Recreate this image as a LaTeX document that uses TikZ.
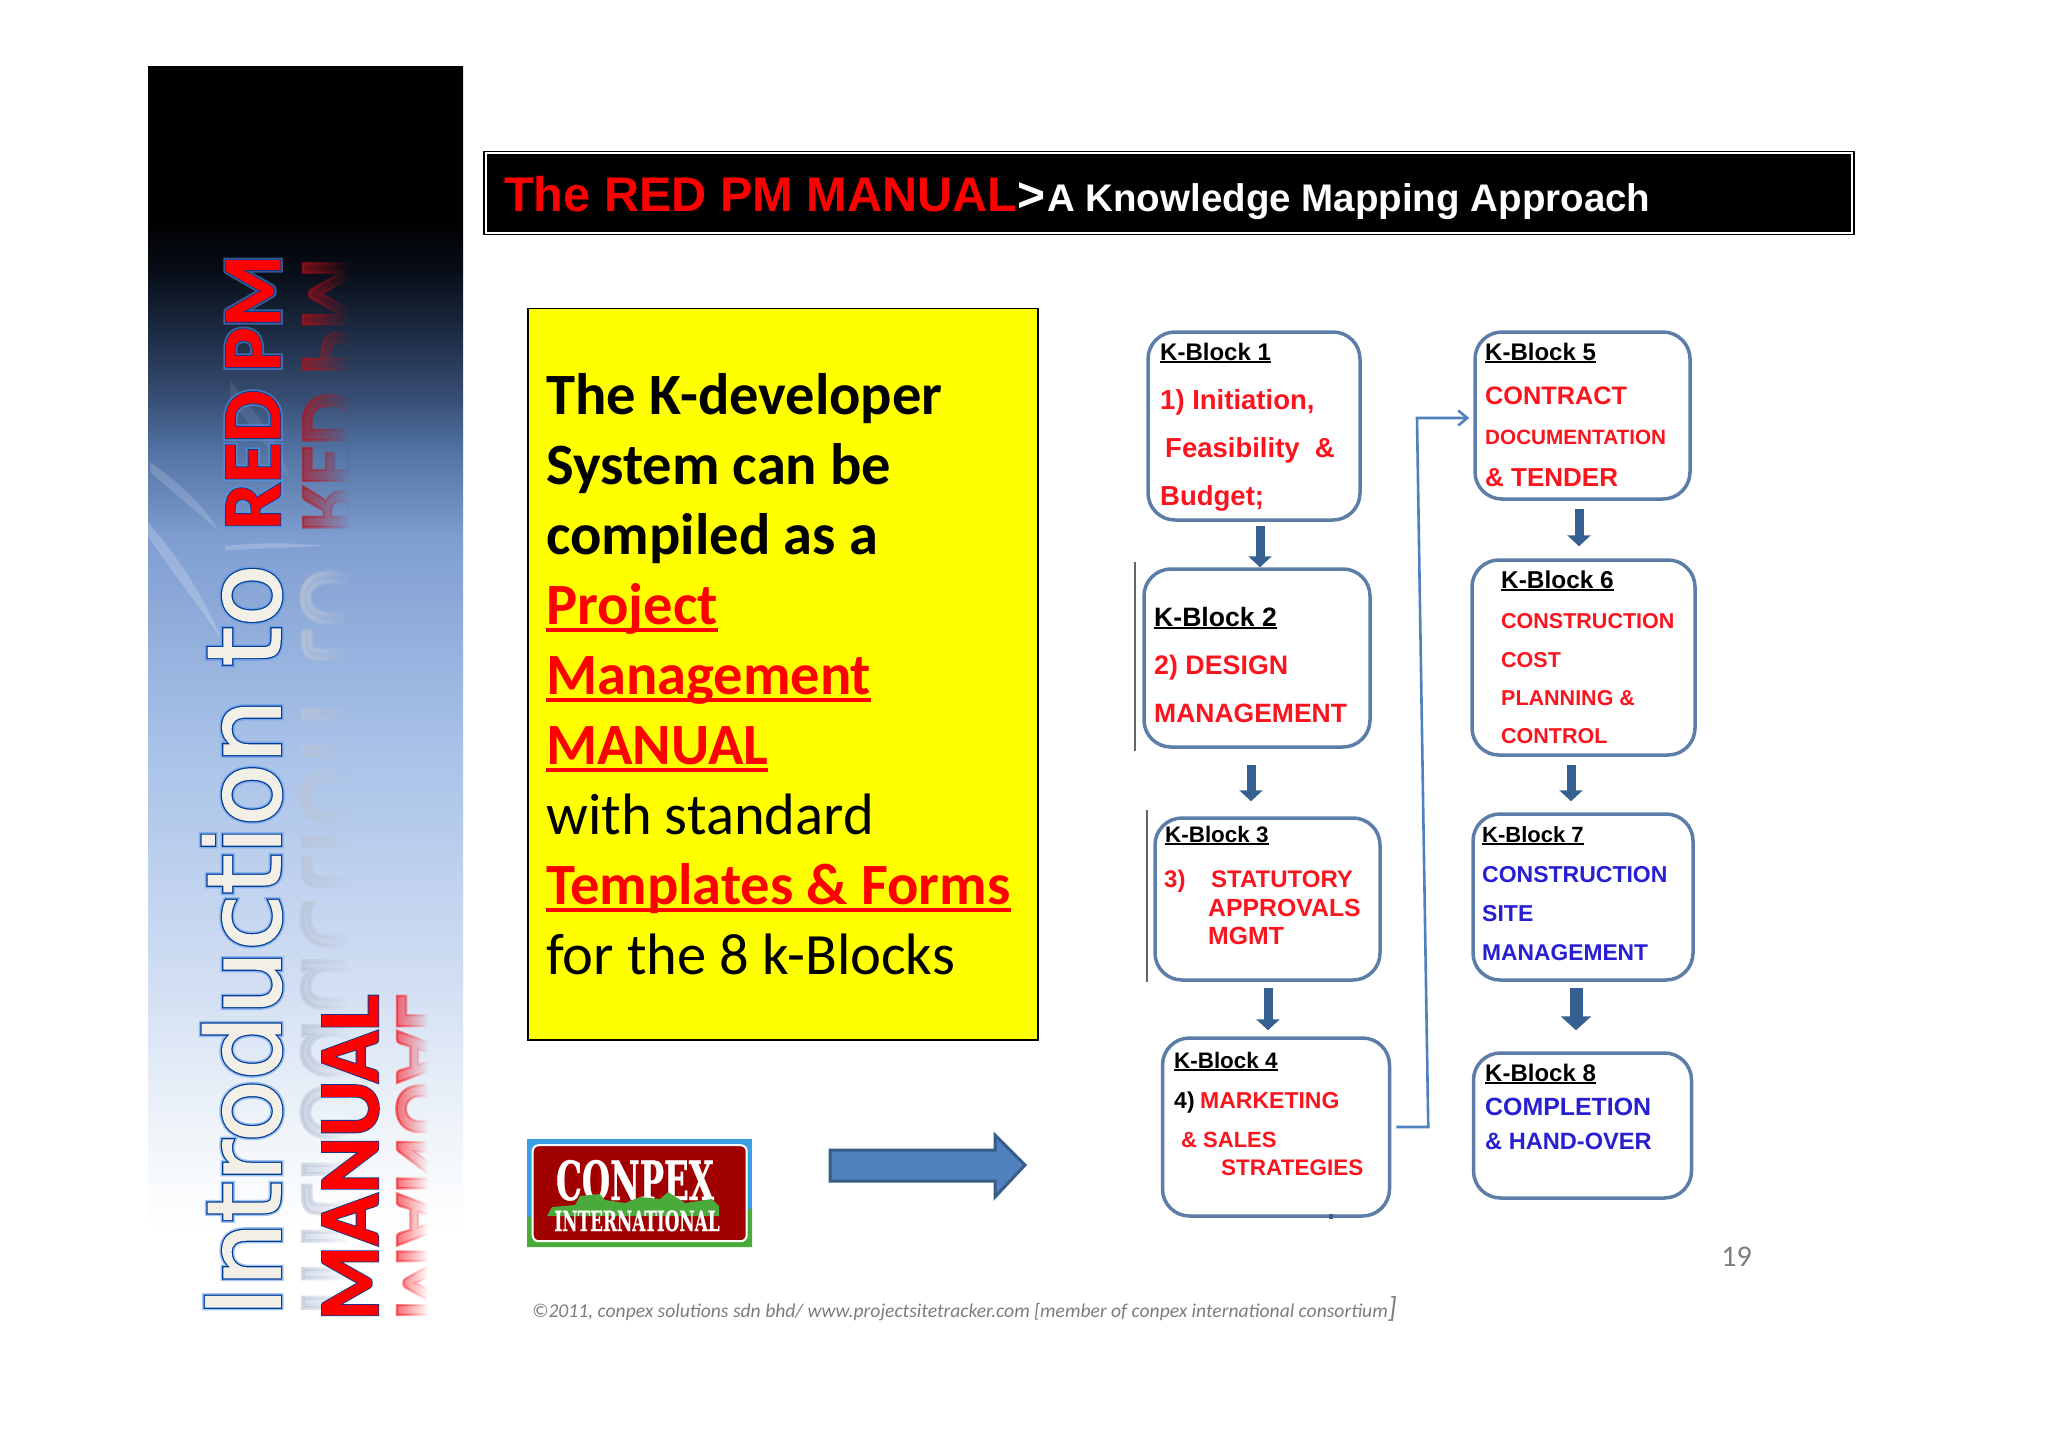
\documentclass[tikz,border=0pt]{standalone}
\usepackage{fontspec}
\usetikzlibrary{arrows.meta,fadings,calc}
\setmainfont{Liberation Sans}
\newfontfamily\carl{Carlito}
\newfontfamily\introP[FakeBold=1.6]{DejaVu Sans}
\newfontfamily\introF[FakeBold=4]{DejaVu Sans}
\newfontfamily\introG[FakeBold=7]{DejaVu Sans}
\newfontfamily\redF[FakeBold=2.8]{Carlito Bold}
\newfontfamily\redP[FakeBold=0.8]{Carlito Bold}
\newfontfamily\redG[FakeBold=7]{Carlito Bold}
\newfontfamily\logoF[FakeStretch=0.6,FakeBold=0.6]{DejaVu Serif Bold}
\definecolor{kred}{RGB}{250,20,30}
\definecolor{kblue}{RGB}{40,30,210}
\definecolor{kline}{RGB}{92,125,168}
\definecolor{karrow}{RGB}{54,96,146}
\definecolor{pale}{RGB}{242,240,230}
\definecolor{halo}{RGB}{90,150,235}
\definecolor{edgeblue}{RGB}{0,60,150}
\definecolor{reflgray}{RGB}{185,196,214}
\definecolor{arrowfill}{RGB}{79,129,189}
\definecolor{arrowedge}{RGB}{56,93,138}
\definecolor{footgray}{RGB}{125,125,125}
\definecolor{logored}{RGB}{160,0,0}
\definecolor{logogreen}{RGB}{75,170,60}
\definecolor{logosky}{RGB}{58,160,230}
\definecolor{pureyellow}{RGB}{255,255,0}
\definecolor{purered}{RGB}{255,0,0}
\pgfdeclareverticalshading{sidefade}{100bp}{
 rgb(0bp)=(1,1,1); rgb(29.5bp)=(1,1,1); rgb(33.3bp)=(.94,.96,.98);
 rgb(39.3bp)=(.82,.87,.95); rgb(48.3bp)=(.66,.76,.91); rgb(56.5bp)=(.50,.62,.82);
 rgb(60bp)=(.32,.45,.64); rgb(62bp)=(.22,.31,.46); rgb(65.2bp)=(.09,.14,.22); rgb(67.1bp)=(.03,.05,.09); rgb(69bp)=(0,0,0); rgb(100bp)=(0,0,0)}
\tikzfading[name=reflfade, left color=transparent!40, right color=transparent!100]
\newcommand\ulbox[3]{\setbox0\hbox{#1}\rlap{\rule[-#2]{\wd0}{#3}}\box0}
\newcommand\kh[1]{\ulbox{#1}{3pt}{2pt}}
\newcommand\bigul[1]{\ulbox{#1}{8pt}{4pt}}
\tikzset{
 kbox/.style={draw=kline,line width=3.5pt,fill=white,rounded corners=27pt,inner sep=0pt,rectangle},
 kt/.style={anchor=base west,inner sep=0pt,font=\fontsize{#1}{#1}\selectfont\bfseries},
 khead/.style={kt=#1,text=black},
 kr/.style={kt=#1,text=kred},
 kb/.style={kt=#1,text=kblue},
 flow/.style={karrow,line width=9pt,-{Triangle[width=23pt,length=11pt]}},
 turn/.style={arrowfill,line width=2.6pt,-{Straight Barb[width=15pt,length=9pt]}},
 sidetext/.style={rotate=90,anchor=base west,inner sep=0pt}
}
\begin{document}
\begin{tikzpicture}[x=1pt,y=-1pt]
\useasboundingbox (0,0) rectangle (2048,1447);
\fill[white] (0,0) rectangle (2048,1447);
% sidebar
\shade[shading=sidefade,shading angle=0] (148,67) rectangle (463,1345);
\begin{scope}
\clip (148,67) rectangle (463,1345);
\fill[white,opacity=.2] (148,522) .. controls (180,560) and (200,590) .. (222,640) .. controls (195,600) and (170,570) .. (148,536) -- cycle;
\fill[white,opacity=.16] (150,462) .. controls (175,480) and (200,500) .. (218,530) .. controls (195,510) and (170,490) .. (150,472) -- cycle;
\fill[white,opacity=.2] (225,546) .. controls (260,542) and (300,543) .. (325,546) .. controls (295,547) and (260,549) .. (225,550) -- cycle;
\fill[white,opacity=.08] (230,380) .. controls (250,410) and (275,430) .. (290,480) .. controls (265,440) and (245,420) .. (230,400) -- cycle;
\end{scope}
% reflections
\begin{scope}[transparency group]
\path[scope fading=reflfade] (303,250) rectangle (350,1330);
\node[sidetext,text=reflgray] (introRefl) at (303,1317) {\fontsize{102}{102}\introF\scalebox{1}[-1]{Introduction to}};
\node[sidetext,text=kred!75!black] (redRefl) at (303,530) {\fontsize{83}{83}\redF\scalebox{1}[-1]{RED PM}};
\end{scope}
\begin{scope}[transparency group]
\path[scope fading=reflfade] (397,980) rectangle (428,1330);
\node[sidetext,text=kred] (manRefl) at (397,1321) {\fontsize{86}{86}\redF\scalebox{1}[-1]{MANUAL}};
\end{scope}
% side titles: halo, outline, then face
\node[sidetext,text=halo,opacity=.55] (introGlow) at (280,1317) {\fontsize{102}{102}\introG Introduction to};
\node[sidetext,text=edgeblue] (introEdge) at (280,1317) {\fontsize{102}{102}\introF Introduction to};
\node[sidetext,text=pale] (intro) at (280,1317) {\fontsize{102}{102}\introP Introduction to};
\node[sidetext,text=halo,opacity=.55] (redGlow) at (280,530) {\fontsize{83}{83}\redG RED PM};
\node[sidetext,text=edgeblue] (redEdge) at (280,530) {\fontsize{83}{83}\redF RED PM};
\node[sidetext,text=purered] (redpm) at (280,530) {\fontsize{83}{83}\redP RED PM};
\node[sidetext,text=edgeblue] (manualEdge) at (378,1321) {\fontsize{86}{86}\redF MANUAL};
\node[sidetext,text=purered] (manual) at (378,1321) {\fontsize{86}{86}\redP MANUAL};
% header
\node[draw=black,line width=1.5pt,fill=white,minimum width=1370pt,minimum height=83pt,inner sep=0pt,anchor=north west] (hdrframe) at (483,151) {};
\fill[black] ([shift={(3.5pt,3.5pt)}]hdrframe.south west) rectangle ([shift={(-3.5pt,-3.5pt)}]hdrframe.north east);
\node[anchor=base west,inner sep=0pt,font=\fontsize{48.6}{48.6}\selectfont\bfseries,text=purered] (hdr1) at (504,212) {The RED PM MANUAL};
\node[anchor=base west,inner sep=0pt,font=\fontsize{48}{48}\selectfont\bfseries,text=white] (hdr2) at (1017,212) {>};
\node[anchor=base west,inner sep=0pt,font=\fontsize{38.5}{38.5}\selectfont\bfseries,text=white] (hdr3) at (1047,212) {A Knowledge Mapping Approach};
% yellow panel
\node[draw=black,line width=1.5pt,fill=pureyellow,minimum width=510pt,minimum height=731pt,inner sep=0pt,anchor=north west] (panel) at (527,308) {};
\node[anchor=north west,inner sep=0pt,align=left,font=\fontsize{58.5}{70}\selectfont\carl] (paneltext) at (546,373) {%
\textbf{The K-developer}\\
\textbf{System can be}\\
\textbf{compiled as a}\\
\textcolor{purered}{\bigul{\textbf{Project}}}\\
\textcolor{purered}{\bigul{\textbf{Management}}}\\
\textcolor{purered}{\bigul{\textbf{MANUAL}}}\\
with standard\\
\textcolor{purered}{\bigul{\textbf{Templates \& Forms}}}\\
for the 8 k-Blocks};
% logo
\node[minimum width=225pt,minimum height=108pt,inner sep=0pt,anchor=north west,fill=logosky] (logo) at (527,1139) {};
\fill[logogreen] (527,1217) -- (560,1213) -- (752,1209) -- (752,1247) -- (527,1247) -- cycle;
\node[draw=white,line width=2pt,fill=logored,rounded corners=6pt,minimum width=214pt,minimum height=96pt,inner sep=0pt] (logored) at (logo.center) {};
\node[inner sep=0pt,text=white,anchor=base,font=\fontsize{54}{54}\logoF] (conpex) at (635,1200) {CONPEX};
\fill[logogreen] (547,1216) -- (552,1207) -- (575,1205) -- (580,1196) -- (600,1194) -- (605,1200) -- (625,1203) -- (640,1197) -- (660,1199) -- (668,1192) -- (685,1203) -- (712,1199) -- (719,1206) -- (719,1216) -- cycle;
\node[inner sep=0pt,text=white,anchor=base,font=\fontsize{28}{28}\logoF] (intl) at (637,1231) {INTERNATIONAL};
% big arrow
\draw[fill=arrowfill,draw=arrowedge,line width=3pt,line join=miter] (830,1150) -- (995,1150) -- (995,1135) -- (1025,1165) -- (995,1197) -- (995,1181) -- (830,1181) -- cycle;
% boxes
\node[kbox,minimum width=212pt,minimum height=188pt] (k1) at (1254,426) {};
\node[kbox,minimum width=226pt,minimum height=178pt] (k2) at (1257,658) {};
\node[kbox,minimum width=225pt,minimum height=162pt] (k3) at (1267.5,899) {};
\node[kbox,minimum width=227pt,minimum height=178pt] (k4) at (1276,1127) {};
\node[kbox,minimum width=215pt,minimum height=167pt] (k5) at (1582.5,415.5) {};
\node[kbox,minimum width=223pt,minimum height=195pt] (k6) at (1583.5,657.5) {};
\node[kbox,minimum width=220pt,minimum height=166pt] (k7) at (1583,897) {};
\node[kbox,minimum width=218pt,minimum height=145pt] (k8) at (1582.5,1125.5) {};
\draw[black!60,line width=1.2pt] (1135,562) -- (1135,751);
\draw[black!60,line width=1.2pt] (1147,810) -- (1147,982);
\fill[karrow] (1329,1214) rectangle (1333,1219);
% block 1
\node[khead=24] (k1a) at (1160,360) {\kh{K-Block 1}};
\node[kr=27.5] (k1b) at (1160,409) {1) Initiation,};
\node[kr=27.5] (k1c) at (1165,457) {Feasibility\ \ \&};
\node[kr=27.5] (k1d) at (1160,505) {Budget;};
% block 2
\node[khead=26.6] (k2a) at (1154,626) {\kh{K-Block 2}};
\node[kr=26.8] (k2b) at (1154,674) {2) DESIGN};
\node[kr=26.5] (k2c) at (1154,722) {MANAGEMENT};
% block 3
\node[khead=22.4] (k3a) at (1165,842) {\kh{K-Block 3}};
\node[kr=24] (k3b) at (1164,887) {3)};
\node[kr=24] (k3c) at (1211,887) {STATUTORY};
\node[kr=24.8] (k3d) at (1208,916) {APPROVALS};
\node[kr=24.8] (k3e) at (1208,944) {MGMT};
% block 4
\node[khead=22.4] (k4a) at (1174,1068) {\kh{K-Block 4}};
\node[khead=23] (k4b) at (1174,1108) {4)};
\node[kr=23] (k4c) at (1200,1108) {MARKETING};
\node[kr=22] (k4d) at (1181,1147) {\& SALES};
\node[kr=22.5] (k4e) at (1221,1175) {STRATEGIES};
% block 5
\node[khead=24] (k5a) at (1485,360) {\kh{K-Block 5}};
\node[kr=25.3] (k5b) at (1485,404) {CONTRACT};
\node[kr=20.7] (k5c) at (1485,444) {DOCUMENTATION};
\node[kr=26] (k5d) at (1485,486) {\& TENDER};
% block 6
\node[khead=24.4] (k6a) at (1501,588) {\kh{K-Block 6}};
\node[kr=21.5] (k6b) at (1501,628) {CONSTRUCTION};
\node[kr=21.5] (k6c) at (1501,667) {COST};
\node[kr=21.5] (k6d) at (1501,705) {PLANNING \&};
\node[kr=21.5] (k6e) at (1501,743) {CONTROL};
% block 7
\node[khead=22] (k7a) at (1482,842) {\kh{K-Block 7}};
\node[kb=23] (k7b) at (1482,882) {CONSTRUCTION};
\node[kb=23] (k7c) at (1482,921) {SITE};
\node[kb=22.8] (k7d) at (1482,960) {MANAGEMENT};
% block 8
\node[khead=24] (k8a) at (1485,1081) {\kh{K-Block 8}};
\node[kb=24.9] (k8b) at (1485,1115) {COMPLETION};
\node[kb=23.6] (k8c) at (1485,1149) {\& HAND-OVER};
% flow arrows
\draw[flow,shorten <=4pt] ([xshift=6pt]k1.south) -- ([xshift=6pt]k1.south |- k2.north);
\draw[flow,shorten <=16pt,shorten >=15pt] ([xshift=-6pt]k2.south) -- ([xshift=-6pt]k2.south |- k3.north);
\draw[flow,shorten <=6pt,shorten >=6pt] ([xshift=.5pt]k3.south) -- ([xshift=.5pt]k3.south |- k4.north);
\draw[flow,shorten <=8pt,shorten >=12pt] ([xshift=-3.5pt]k5.south) -- ([xshift=-3.5pt]k5.south |- k6.north);
\draw[flow,shorten <=8pt,shorten >=11pt] ([xshift=-12.5pt]k6.south) -- ([xshift=-12.5pt]k6.south |- k7.north);
\draw[karrow,line width=13pt,-{Triangle[width=30pt,length=14pt]},shorten <=6pt,shorten >=21pt] ([xshift=-7pt]k7.south) -- ([xshift=-7pt]k7.south |- k8.north);
\draw[turn,shorten <=5pt,line join=miter] (k4.east) -- ++(37pt,0pt) -- (1417,418) -- ([xshift=-4pt,yshift=-2.5pt]k5.west);
% footer
\node[anchor=base east,inner sep=0pt,text=footgray,font=\fontsize{30}{30}\carl] (pagenum) at (1752,1266) {19};
\node[anchor=base west,inner sep=0pt,text=footgray,font=\fontsize{19.6}{19.6}\carl\itshape] (foot) at (532,1317) {©2011, conpex solutions sdn bhd/ www.projectsitetracker.com [member of conpex international consortium{\fontsize{29}{29}\selectfont]}};
\end{tikzpicture}
\end{document}
